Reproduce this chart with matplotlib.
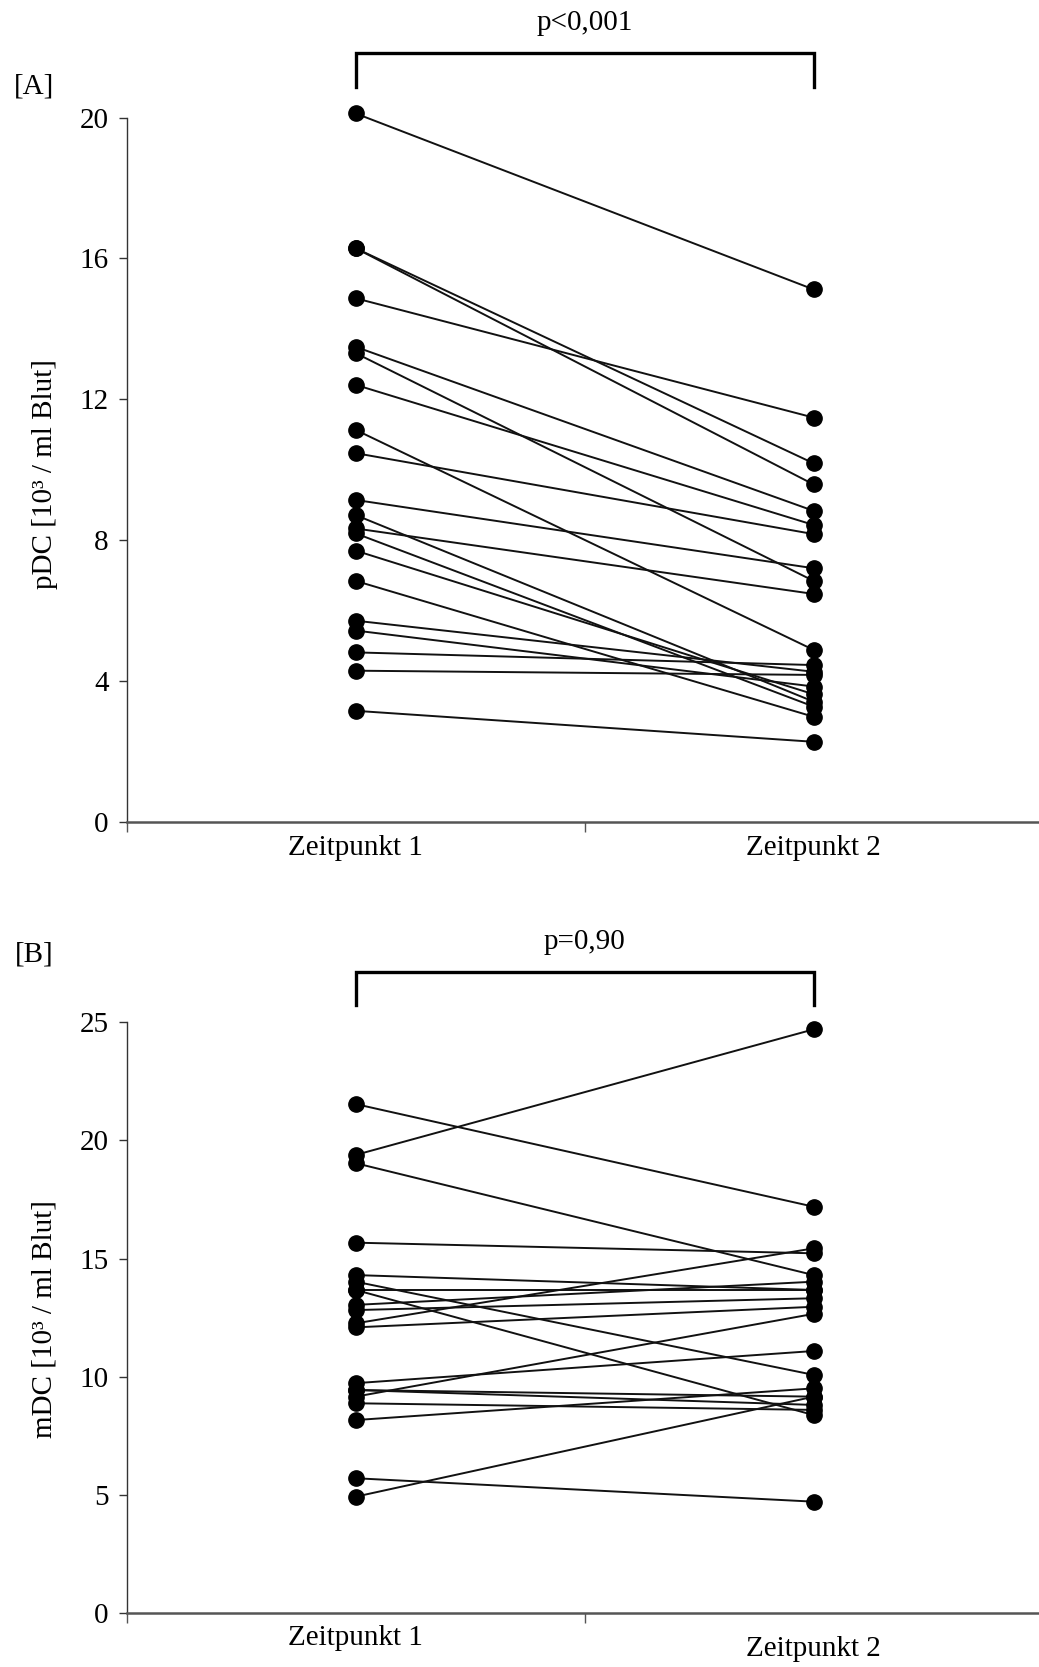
import matplotlib
matplotlib.use("Agg")
import matplotlib.pyplot as plt

plt.rcParams['font.family'] = ['Liberation Serif', 'DejaVu Serif']

# Panel A: pDC, paired values (Zeitpunkt 1 -> Zeitpunkt 2)
pdc_t1 = [20.12, 16.29, 16.29, 14.87, 13.49, 13.31, 12.41, 11.13, 10.47, 9.14,
          8.71, 8.33, 8.19, 7.70, 6.84, 5.71, 5.43, 4.81, 4.29, 3.15]
pdc_t2 = [15.12, 10.18, 9.58, 11.48, 8.83, 6.84, 8.43, 4.88, 8.17, 7.20,
          3.41, 6.47, 3.27, 3.62, 2.98, 4.26, 3.84, 4.45, 4.17, 2.27]

# Panel B: mDC
mdc_t1 = [21.53, 19.38, 19.03, 15.67, 14.30, 14.02, 13.67, 13.67, 13.04, 12.82,
          12.26, 12.09, 9.73, 9.44, 9.44, 9.16, 8.88, 8.17, 5.71, 4.93]
mdc_t2 = [17.19, 24.69, 14.30, 15.22, 13.67, 10.08, 8.38, 13.67, 14.02, 13.32,
          15.43, 12.96, 11.09, 8.81, 9.16, 12.66, 8.60, 9.51, 4.72, 9.16]

categories = ['Zeitpunkt 1', 'Zeitpunkt 2']

FS = 21
W, H = 1039, 1667
fig = plt.figure(figsize=(W / 100, H / 100), dpi=100)


def panel(rect, t1, t2, ymax, yticks, ylabel, letter, ptext, bracket_y, leg_y, text_y,
          label_offsets):
    ax = fig.add_axes(rect)
    for a, b in zip(t1, t2):
        ax.plot([1, 2], [a, b], color='#111111', lw=1.4, marker='o', ms=11,
                mfc='black', mec='black', clip_on=False, zorder=3)
    ax.set_xlim(0.5, 2.5)
    ax.set_ylim(0, ymax)
    ax.spines['top'].set_visible(False)
    ax.spines['right'].set_visible(False)
    ax.spines['left'].set_color('#333333')
    ax.spines['left'].set_linewidth(1.0)
    ax.spines['bottom'].set_color('#555555')
    ax.spines['bottom'].set_linewidth(1.8)
    ax.set_yticks(yticks)
    ax.set_yticklabels([str(v) for v in yticks], fontsize=FS)
    ax.tick_params(axis='y', length=6, width=1, pad=7, colors='#333333',
                   labelcolor='black')
    ax.set_xticks([0.5, 1.5, 2.5])
    ax.set_xticklabels([])
    ax.tick_params(axis='x', length=7, width=1, colors='#555555')
    for i, (lab, off) in enumerate(zip(categories, label_offsets)):
        ax.annotate(lab, xy=(i + 1, 0), xycoords=('data', 'axes fraction'),
                    xytext=(0, -off), textcoords='offset points',
                    ha='center', va='center', fontsize=FS)
    # significance bracket
    ax.plot([1, 1, 2, 2], [leg_y, bracket_y, bracket_y, leg_y], color='black',
            lw=2.4, clip_on=False, solid_joinstyle='miter')
    ax.text(1.5, text_y, ptext, ha='center', va='center', fontsize=FS)
    return ax


axA = panel([126.7 / W, 1 - 821.7 / H, 916 / W, (821.7 - 117.7) / H],
            pdc_t1, pdc_t2, 20, [0, 4, 8, 12, 16, 20], 'pDC', '[A]',
            'p<0,001', 21.84, 20.87, 22.69, [19, 19])
axB = panel([126.7 / W, 1 - 1613.3 / H, 916 / W, (1613.3 - 1022) / H],
            mdc_t1, mdc_t2, 25, [0, 5, 10, 15, 20, 25], 'mDC', '[B]',
            'p=0,90', 27.12, 25.72, 28.39, [18, 26])

fig.text(34 / W, 1 - 87 / H, '[A]', ha='center', va='center', fontsize=FS)
fig.text(34 / W, 1 - 954 / H, '[B]', ha='center', va='center', fontsize=FS)
fig.text(45 / W, 1 - 474 / H, 'pDC [10³ / ml Blut]', rotation=90,
         ha='center', va='center', fontsize=FS)
fig.text(45 / W, 1 - 1319 / H, 'mDC [10³ / ml Blut]', rotation=90,
         ha='center', va='center', fontsize=FS)

fig.savefig('out.png', dpi=100)
